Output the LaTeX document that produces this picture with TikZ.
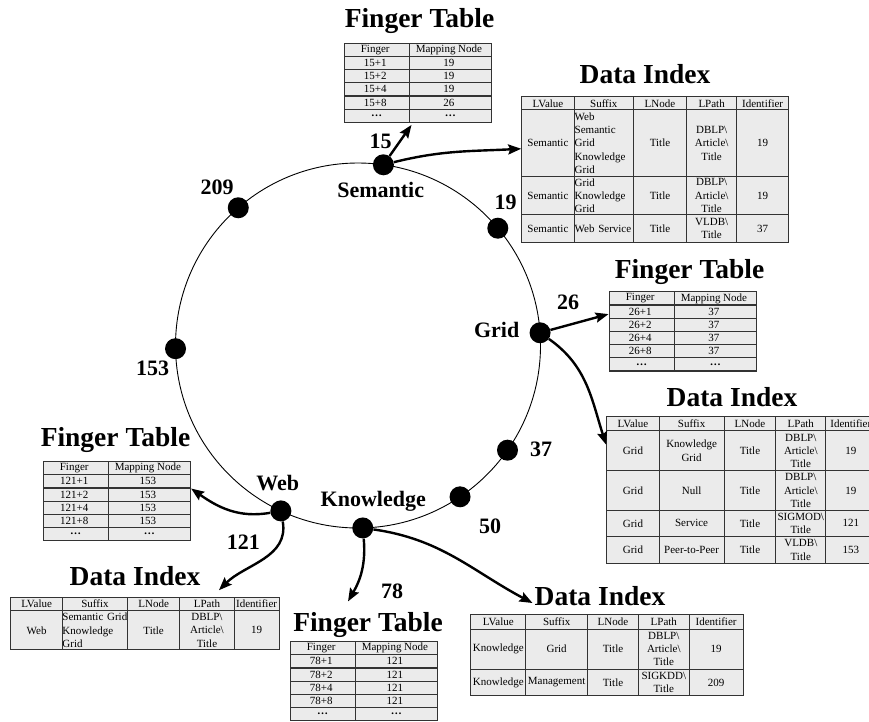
\documentclass[tikz,border=0pt]{standalone}
\usepackage{fontspec}
\setmainfont{Liberation Serif}
\usetikzlibrary{matrix, calc, positioning, arrows.meta}
\tikzset{>={Stealth[length=13pt,width=10pt,inset=2pt]}}
\definecolor{cellgray}{HTML}{EBEBEB}
\definecolor{rulegray}{HTML}{333333}
\newcommand{\tabfont}{\fontsize{11}{13.3}\selectfont}
\newcommand{\dblp}{DBLP\textbackslash\\Article\textbackslash\\Title}
\newcommand{\more}{\textbf{\dots}}
\tikzset{
  tbl/.style={matrix of nodes, nodes in empty cells, anchor=north west, inner sep=0pt,
    column sep=-1.2pt, row sep=-1.2pt,
    nodes={draw=rulegray, fill=cellgray, line width=1.2pt, inner sep=0.6pt,
      align=center, anchor=center, font=\tabfont}},
  ftab/.style={tbl, nodes={minimum height=13.2pt},
    column 1/.style={nodes={minimum width=65pt}},
    column 2/.style={nodes={minimum width=82.4pt}}},
  dcol/.style 2 args={column #1/.style={nodes={minimum width=#2, text width=#2-1.2pt}}},
  dtab/.style n args={5}{tbl, dcol={1}{#1}, dcol={2}{#2}, dcol={3}{#3}, dcol={4}{#4}, dcol={5}{#5}},
  lcell/.style={align=left},
  ttl/.style={font=\fontsize{27.5}{30}\selectfont\bfseries, anchor=base, inner sep=0pt},
  lbl/.style={font=\fontsize{22}{24}\selectfont\bfseries, inner sep=0pt},
  dot/.style={circle, fill=black, minimum size=21pt, inner sep=0pt},
  arr/.style={->, line width=2.4pt}
}
\begin{document}
\begin{tikzpicture}[x=1pt,y=1pt]
\clip (0,0) rectangle (869,-721);
\coordinate (ctr) at (358,-345.5);
\draw [line width=0.9pt] (ctr) circle [radius=182.5pt];
\foreach \ang/\nm in {82/n15, 131/n209, 40/n19, 4/n26, 181/n153, -35/n37, -56/n50, -115/n121, -88.5/n78}
  \node [dot] (\nm) at ($(ctr)+(\ang:182.5pt)$) {};
\node [lbl] (l15) at (380.5,-141) {15};
\node [lbl] (lsem) at (380.7,-190) {Semantic};
\node [lbl] (l209) at (217,-187) {209};
\node [lbl] (l19) at (505.7,-202) {19};
\node [lbl] (l26) at (568,-302) {26};
\node [lbl] (lgrid) at (496.7,-330) {Grid};
\node [lbl] (l153) at (152.7,-368) {153};
\node [lbl] (l37) at (541,-449) {37};
\node [lbl] (l50) at (490,-526) {50};
\node [lbl] (lweb) at (277.7,-483) {Web};
\node [lbl] (l121) at (243.3,-542) {121};
\node [lbl] (lknow) at (373.3,-501) {Knowledge};
\node [lbl] (l78) at (392,-591) {78};

\node [ttl] (semfttl) at (419.5,-27) {Finger Table};
\matrix [ftab] (semft) at (343.3,-42.3) {
  Finger & Mapping Node \\
  15+1 & 19 \\
  15+2 & 19 \\
  15+4 & 19 \\
  15+8 & 26 \\
  \more & \more \\
};
\node [ttl] (semdittl) at (645,-83.5) {Data Index};
\matrix [dtab={52.3pt}{59.4pt}{53pt}{50.3pt}{51.7pt},
  row 1/.style={nodes={minimum height=13pt}},
  row 2/.style={nodes={minimum height=66.7pt}},
  row 3/.style={nodes={minimum height=38.3pt}},
  row 4/.style={nodes={minimum height=27.4pt}}] (semdi) at (521,-96) {
  LValue & Suffix & LNode & LPath & Identifier \\
  Semantic & |[lcell]| {Web\\Semantic\\Grid\\Knowledge\\Grid} & Title & {\dblp} & 19 \\
  Semantic & |[lcell]| {Grid\\Knowledge\\Grid} & Title & {\dblp} & 19 \\
  Semantic & |[lcell]| {Web Service} & Title & {VLDB\textbackslash\\Title} & 37 \\
};

\node [ttl] (gridfttl) at (689.5,-278) {Finger Table};
\matrix [ftab] (gridft) at (608.3,-291) {
  Finger & Mapping Node \\
  26+1 & 37 \\
  26+2 & 37 \\
  26+4 & 37 \\
  26+8 & 37 \\
  \more & \more \\
};
\node [ttl] (griddittl) at (732,-406) {Data Index};
\matrix [dtab={52.3pt}{65pt}{51.7pt}{50pt}{50pt},
  row 1/.style={nodes={minimum height=14pt}},
  row 2/.style={nodes={minimum height=40pt}},
  row 3/.style={nodes={minimum height=39.3pt}},
  row 4/.style={nodes={minimum height=26.4pt}},
  row 5/.style={nodes={minimum height=27pt}}] (griddi) at (606,-416) {
  LValue & Suffix & LNode & LPath & Identifier \\
  Grid & {Knowledge\\Grid} & Title & {\dblp} & 19 \\
  Grid & Null & Title & {\dblp} & 19 \\
  Grid & Service & Title & {SIGMOD\textbackslash\\Title} & 121 \\
  Grid & Peer-to-Peer & Title & {VLDB\textbackslash\\Title} & 153 \\
};

\node [ttl] (webfttl) at (115.5,-446.7) {Finger Table};
\matrix [ftab] (webft) at (42.3,-460.7) {
  Finger & Mapping Node \\
  121+1 & 153 \\
  121+2 & 153 \\
  121+4 & 153 \\
  121+8 & 153 \\
  \more & \more \\
};
\node [ttl] (webdittl) at (135,-585) {Data Index};
\matrix [dtab={51.7pt}{65pt}{52.3pt}{54.3pt}{45pt},
  row 1/.style={nodes={minimum height=13.3pt}},
  row 2/.style={nodes={minimum height=39pt}}] (webdi) at (10,-596.7) {
  LValue & Suffix & LNode & LPath & Identifier \\
  Web & |[lcell, inner xsep=0pt, text width=65pt]| {Semantic Grid\\Knowledge\\Grid} & Title & {\dblp} & 19 \\
};

\node [ttl] (kfttl) at (368,-631.7) {Finger Table};
\matrix [ftab] (kft) at (289.3,-640.7) {
  Finger & Mapping Node \\
  78+1 & 121 \\
  78+2 & 121 \\
  78+4 & 121 \\
  78+8 & 121 \\
  \more & \more \\
};
\node [ttl] (kdittl) at (600,-605) {Data Index};
\matrix [dtab={55pt}{61.7pt}{51pt}{50.6pt}{54pt},
  row 1/.style={nodes={minimum height=15pt}},
  row 2/.style={nodes={minimum height=40pt}},
  row 3/.style={nodes={minimum height=26.7pt}}] (kdi) at (470,-613.3) {
  LValue & Suffix & LNode & LPath & Identifier \\
  Knowledge & Grid & Title & {\dblp} & 19 \\
  Knowledge & Management & Title & {SIGKDD\textbackslash\\Title} & 209 \\
};

\draw [arr] (n15) -- ([xshift=3pt,yshift=-2pt]semft-6-2.south west);
\draw [arr] (n15) to [out=14,in=183] ([yshift=-5.6pt]semdi-2-1.west);
\draw [arr] (n26) -- ([yshift=-2.5pt]gridft-2-1.west);
\draw [arr] (n26) to [out=-35,in=108] ([yshift=6pt]griddi-2-1.west);
\draw [arr] (n121) to [out=190,in=-35] (webft-2-2.south east);
\draw [arr] (n121) to [out=-80,in=45] ([xshift=12pt,yshift=6.7pt]webdi-1-4.north);
\draw [arr] (n78) to [out=-85,in=60] ([xshift=-20pt,yshift=11pt]kfttl.north);
\draw [arr] (n78) to [out=-8,in=152] ([xshift=-2pt,yshift=2pt]kdittl.base west);
\end{tikzpicture}
\end{document}
